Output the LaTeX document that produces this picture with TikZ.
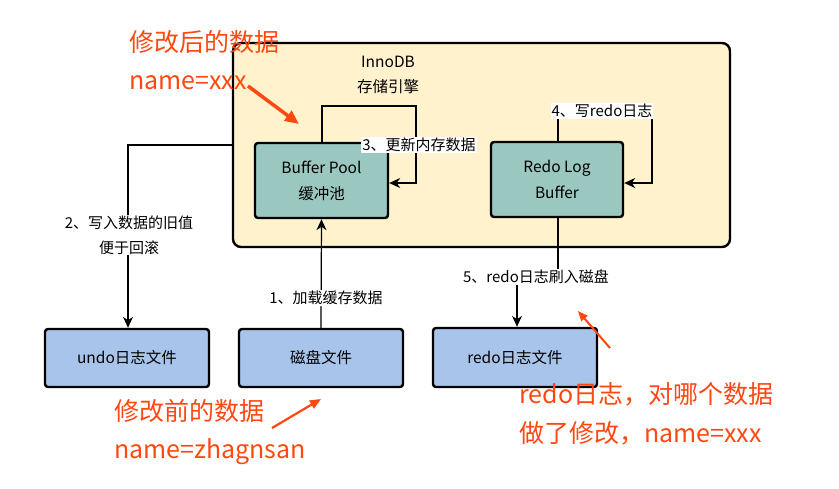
\documentclass[tikz,border=0pt]{standalone}
\usepackage{fontspec}
\setmainfont{Noto Sans CJK SC}
\usetikzlibrary{arrows.meta}
\definecolor{engfill}{HTML}{FFF2CC}
\definecolor{tealfill}{HTML}{9AC7BF}
\definecolor{bluefill}{HTML}{A9C4EB}
\definecolor{annot}{RGB}{255,72,16}
\tikzset{
  engine/.style={draw=black, line width=2.4pt, fill=engfill, rounded corners=8pt},
  membox/.style={draw=black, line width=2.4pt, fill=tealfill, rounded corners=3pt, align=center, font=\fontsize{15.5}{26}\selectfont},
  filebox/.style={draw=black, line width=2.4pt, fill=bluefill, rounded corners=3pt, align=center, font=\fontsize{15.5}{18}\selectfont},
  conn/.style={draw=black, line width=1.2pt, -{Stealth[length=11pt,width=10pt,inset=3.5pt]}},
  lbl/.style={fill=white, inner sep=1pt, align=center, font=\fontsize{15}{25}\selectfont},
  plainlbl/.style={inner sep=1pt, align=center, font=\fontsize{15.5}{25}\selectfont},
  redtxt/.style={text=annot, anchor=west, inner sep=0pt, font=\fontsize{25}{30}\selectfont},
  redarrow/.style={draw=annot, -{Triangle[length=14pt,width=12pt]}},
}
\begin{document}
\begin{tikzpicture}[x=1pt,y=-1pt]
\useasboundingbox (0,0) rectangle (839,488);
% engine container
\node[engine, minimum width=497pt, minimum height=204pt, inner sep=0pt] (eng) at (481.5,145) {};
\node[plainlbl] (englbl) at (388,75) {InnoDB\\存储引擎};
% memory boxes
\node[membox, minimum width=133pt, minimum height=75pt, inner sep=0pt] (bp) at (321.5,180.5) {Buffer Pool\\缓冲池};
\node[membox, minimum width=132pt, minimum height=75pt, inner sep=0pt] (rlb) at (557,179.5) {Redo Log\\Buffer};
% files
\node[filebox, minimum width=164pt, minimum height=58pt, inner sep=0pt] (undo) at (127,358) {undo日志文件};
\node[filebox, minimum width=164pt, minimum height=58pt, inner sep=0pt] (disk) at (321,358) {磁盘文件};
\node[filebox, minimum width=164pt, minimum height=59pt, inner sep=0pt] (redo) at (515,357.5) {redo日志文件};
% coordinates
\coordinate (c3a) at (322,106);
\coordinate (c3b) at (416,106);
\coordinate (c3c) at (416,183);
\coordinate (c4a) at (558,111);
\coordinate (c4b) at (652,111);
\coordinate (c4c) at (652,183);
\coordinate (c2a) at (128,145);
\coordinate (c5a) at (558,277);
\coordinate (c5b) at (517,277);
% connectors
\draw[conn] (disk.north) -- (bp.south);
\draw[conn] (eng.west |- c2a) -- (c2a) -- (undo.north -| c2a);
\draw[conn] (bp.north -| c3a) -- (c3a) -- (c3b) -- (c3c) -- (bp.east |- c3c);
\draw[conn] (rlb.north -| c4a) -- (c4a) -- (c4b) -- (c4c) -- (rlb.east |- c4c);
\draw[conn] (rlb.south -| c5a) -- (c5a) -- (c5b) -- (redo.north -| c5b);
% labels
\node[lbl] (l1) at (326,298) {1、加载缓存数据};
\node[lbl] (l2) at (129,235) {2、写入数据的旧值\\便于回滚};
\node[lbl] (l3) at (419,145) {3、更新内存数据};
\node[lbl] (l4) at (602,111) {4、写redo日志};
\node[lbl] (l5) at (536,277) {5、redo日志刷入磁盘};
% red annotations
\node[redtxt] (a1) at (129,42) {修改后的数据};
\node[redtxt] (a1b) at (129,83) {name=xxx};
\node[redtxt] (a2) at (114,411) {修改前的数据};
\node[redtxt] (a2b) at (114,452) {name=zhagnsan};
\node[redtxt] (a3) at (519,394) {redo日志，对哪个数据};
\node[redtxt] (a3b) at (519,433) {做了修改，name=xxx};
\coordinate (r1s) at (248,86);
\coordinate (r1e) at (299,124);
\coordinate (r2s) at (272,428);
\coordinate (r2e) at (321,399);
\coordinate (r3s) at (610,348);
\coordinate (r3e) at (578,311);
\draw[redarrow, line width=3.5pt] (r1s) -- (r1e);
\draw[redarrow, line width=2.2pt, -{Triangle[length=11pt,width=9pt]}] (r2s) -- (r2e);
\draw[redarrow, line width=2pt, -{Triangle[length=10pt,width=8pt]}] (r3s) -- (r3e);
\end{tikzpicture}
\end{document}
